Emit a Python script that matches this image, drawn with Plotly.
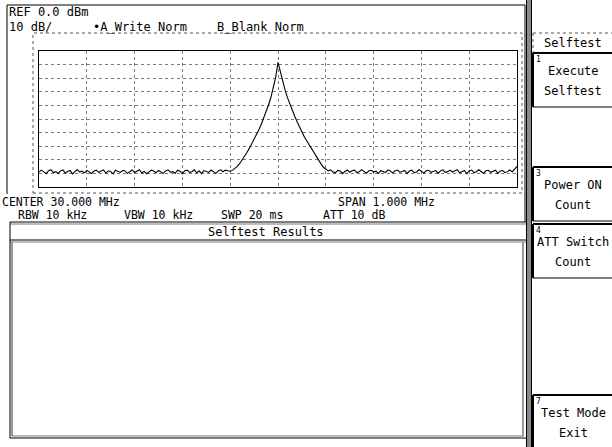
import plotly.graph_objects as go

ref_level_dbm = 0.0
db_per_div = 10
center_mhz = 30.000
span_mhz = 1.000
freq_step_mhz = 0.005          # sweep point spacing (201 points over the span)

noise_left = [
    -89.1, -87.6, -88.9, -90.2, -88.0, -87.3, -89.4, -88.7, -90.0, -88.2,
    -87.5, -89.8, -88.6, -87.9, -90.4, -88.8, -87.2, -89.0, -88.4, -89.6,
    -87.8, -88.9, -90.1, -88.3, -87.6, -89.2, -88.5, -87.4, -89.9, -88.1,
    -88.7, -90.3, -87.7, -88.6, -89.3, -87.9, -88.2, -90.0, -88.8, -87.5,
    -89.4, -88.0, -87.3, -89.7, -88.5, -90.2, -88.9, -87.6, -88.3, -89.5,
    -87.8, -88.6, -90.0, -88.2, -87.4, -89.1, -88.7, -89.9, -87.7, -88.4,
    -90.3, -88.0, -87.6, -89.2, -88.8, -87.3, -89.6, -88.1, -90.1, -87.9,
    -88.6, -89.3, -87.5, -88.9, -90.0, -88.2, -87.4, -88.8, -87.6, -88.1,
    -88.4,
]
flank_left = [
    -87.6, -86.5, -84.8, -82.7, -80.2, -77.5, -74.6, -71.6, -68.4, -65.1,
    -61.6, -57.9, -53.9, -49.6, -45.0, -39.9, -34.2, -27.6, -19.5,
]
peak = [-8.3]
flank_right = [
    -16.0, -23.0, -29.0, -34.5, -39.5, -44.0, -48.0, -52.0, -56.0, -59.5,
    -63.0, -66.0, -69.0, -72.0, -75.0, -78.0, -80.5, -83.0, -85.5, -87.0,
]
noise_right = [
    -88.1, -87.4, -88.9, -89.6, -87.8, -88.3, -90.0, -88.6, -87.5, -89.2,
    -88.0, -87.6, -89.4, -88.8, -87.2, -88.5, -89.9, -88.1, -87.7, -89.0,
    -88.4, -90.1, -87.9, -88.7, -89.3, -87.4, -88.2, -89.7, -88.0, -87.5,
    -89.1, -88.6, -87.8, -90.2, -88.3, -87.6, -89.5, -88.9, -87.3, -88.4,
    -89.8, -88.1, -87.7, -89.2, -88.6, -87.9, -90.0, -88.2, -87.4, -89.3,
    -88.7, -87.6, -89.0, -88.3, -87.2, -89.6, -88.5, -87.8, -90.1, -88.0,
    -87.5, -89.4, -88.8, -87.3, -88.6, -89.9, -88.1, -87.7, -89.2, -88.4,
    -87.6, -90.0, -88.2, -87.9, -89.5, -88.7, -87.4, -88.9, -86.9, -84.8,
]
trace_dbm = noise_left + flank_left + peak + flank_right + noise_right

header_left = ["REF 0.0 dBm", "10 dB/"]
header_traces = ["\u2022A_Write Norm", "B_Blank Norm"]
footer_row1 = ["CENTER 30.000 MHz", "SPAN 1.000 MHz"]
footer_row2 = ["RBW 10 kHz", "VBW 10 kHz", "SWP 20 ms", "ATT 10 dB"]
results_title = "Selftest Results"
menu_title = "Selftest"
softkeys = [  # (slot number, line1, line2)
    (1, "Execute", "Selftest"),
    (3, "Power ON", "Count"),
    (4, "ATT Switch", "Count"),
    (7, "Test Mode", "Exit"),
]

# ---------------- layout helpers (pixel -> paper) ----------------
W, H = 612, 447
def X(px):
    return px / W
def Y(py):
    return 1 - py / H

FONT = "DejaVu Sans Mono"
fig = go.Figure()

start_mhz = center_mhz - span_mhz / 2
fig.add_trace(go.Scatter(
    x0=start_mhz, dx=freq_step_mhz, y=trace_dbm, mode="lines",
    line=dict(color="black", width=1.1), hoverinfo="skip", showlegend=False,
))

gx0, gx1, gy0, gy1 = 39, 517, 51, 187
fig.update_layout(
    width=W, height=H, margin=dict(l=0, r=0, t=0, b=0),
    paper_bgcolor="white", plot_bgcolor="white", showlegend=False,
    xaxis=dict(domain=[X(gx0), X(gx1)], range=[start_mhz, start_mhz + span_mhz],
               tick0=start_mhz, dtick=span_mhz / 10, showticklabels=False, ticks="",
               showgrid=True, gridcolor="#7a7a7a", griddash="dot", gridwidth=1,
               zeroline=False, showline=True, linecolor="black", linewidth=1, mirror=True),
    yaxis=dict(domain=[Y(gy1), Y(gy0)],
               range=[ref_level_dbm - 10 * db_per_div, ref_level_dbm],
               dtick=db_per_div, showticklabels=False, ticks="",
               showgrid=True, gridcolor="#7a7a7a", griddash="dot", gridwidth=1,
               zeroline=False, showline=True, linecolor="black", linewidth=1, mirror=True),
)

shapes = []
def rect(x0, y0, x1, y1, color="black", width=1, dash=None, fill=None):
    d = dict(type="rect", xref="paper", yref="paper",
             x0=X(x0), x1=X(x1), y0=Y(y1), y1=Y(y0),
             line=dict(color=color, width=width))
    if dash:
        d["line"]["dash"] = dash
    if fill:
        d["fillcolor"] = fill
        d["line"]["width"] = 0
    shapes.append(d)

def line(x0, y0, x1, y1, color="black", width=1, dash=None):
    d = dict(type="line", xref="paper", yref="paper",
             x0=X(x0), x1=X(x1), y0=Y(y0), y1=Y(y1),
             line=dict(color=color, width=width))
    if dash:
        d["line"]["dash"] = dash
    shapes.append(d)

# screen border of analyzer area
line(7, 5, 525, 5)
line(7, 5, 7, 194)
line(525, 5, 525, 222)
# dotted frame around the graticule
rect(33, 33, 522, 193, color="#555", width=1, dash="dot")
# hatched separator between display and softkeys
rect(527, 0, 531, H, fill="#8a8a8a")
line(526.5, 0, 526.5, H, width=1)
line(531.5, 0, 531.5, H, width=1)

# Selftest results header + box (double lines)
line(10, 222, 526, 222, width=1)
line(10, 224, 526, 224, color="#777", width=1)
line(10, 240, 526, 240, width=1)
line(10, 242, 526, 242, color="#777", width=1)
line(10, 222, 10, 438)
rect(11, 242, 13, 436, fill="#9a9a9a")
rect(522, 242, 524, 436, fill="#9a9a9a")
line(10, 438, 526, 438)
line(12, 436, 524, 436, color="#777")

# softkey panel
line(533, 33, W, 33, color="#555", dash="dot")
line(533, 33, 533, 53, color="#555", dash="dot")
slot_top0, slot_h = 53, 57
for num, l1, l2 in softkeys:
    top = slot_top0 + (num - 1) * slot_h
    bot = min(top + 54, H)
    line(533, top, W, top, width=2)
    line(533, top, 533, bot, width=2)
    if bot < H:
        line(533, bot, W, bot, width=1.2)

annotations = []
def text(s, x, y, anchor="left", size=12):
    annotations.append(dict(text=s, x=X(x), y=Y(y), xref="paper", yref="paper",
                            showarrow=False, xanchor=anchor, yanchor="middle",
                            borderpad=0,
                            font=dict(family=FONT, size=size, color="black")))

text(header_left[0], 8, 12)
text(header_left[1], 8, 27)
text(header_traces[0], 92, 27)
text(header_traces[1], 216, 27)
text(footer_row1[0], 1, 202, size=11.5)
text(footer_row1[1], 337, 202, size=11.5)
for s, x in zip(footer_row2, [17, 123, 220, 322]):
    text(s, x, 215, size=11.5)
text(results_title, 266, 232, anchor="center")
text(menu_title, 573, 43, anchor="center")
for num, l1, l2 in softkeys:
    top = slot_top0 + (num - 1) * slot_h
    text(str(num), 535, top + 6, size=8)
    text(l1, 573, top + 18, anchor="center")
    text(l2, 573, top + 38, anchor="center")

fig.update_layout(shapes=shapes, annotations=annotations)
fig.write_html("out.html",
               config={"displayModeBar": False, "staticPlot": True},
               post_script="document.body.style.margin='0';document.body.style.overflow='hidden';")
